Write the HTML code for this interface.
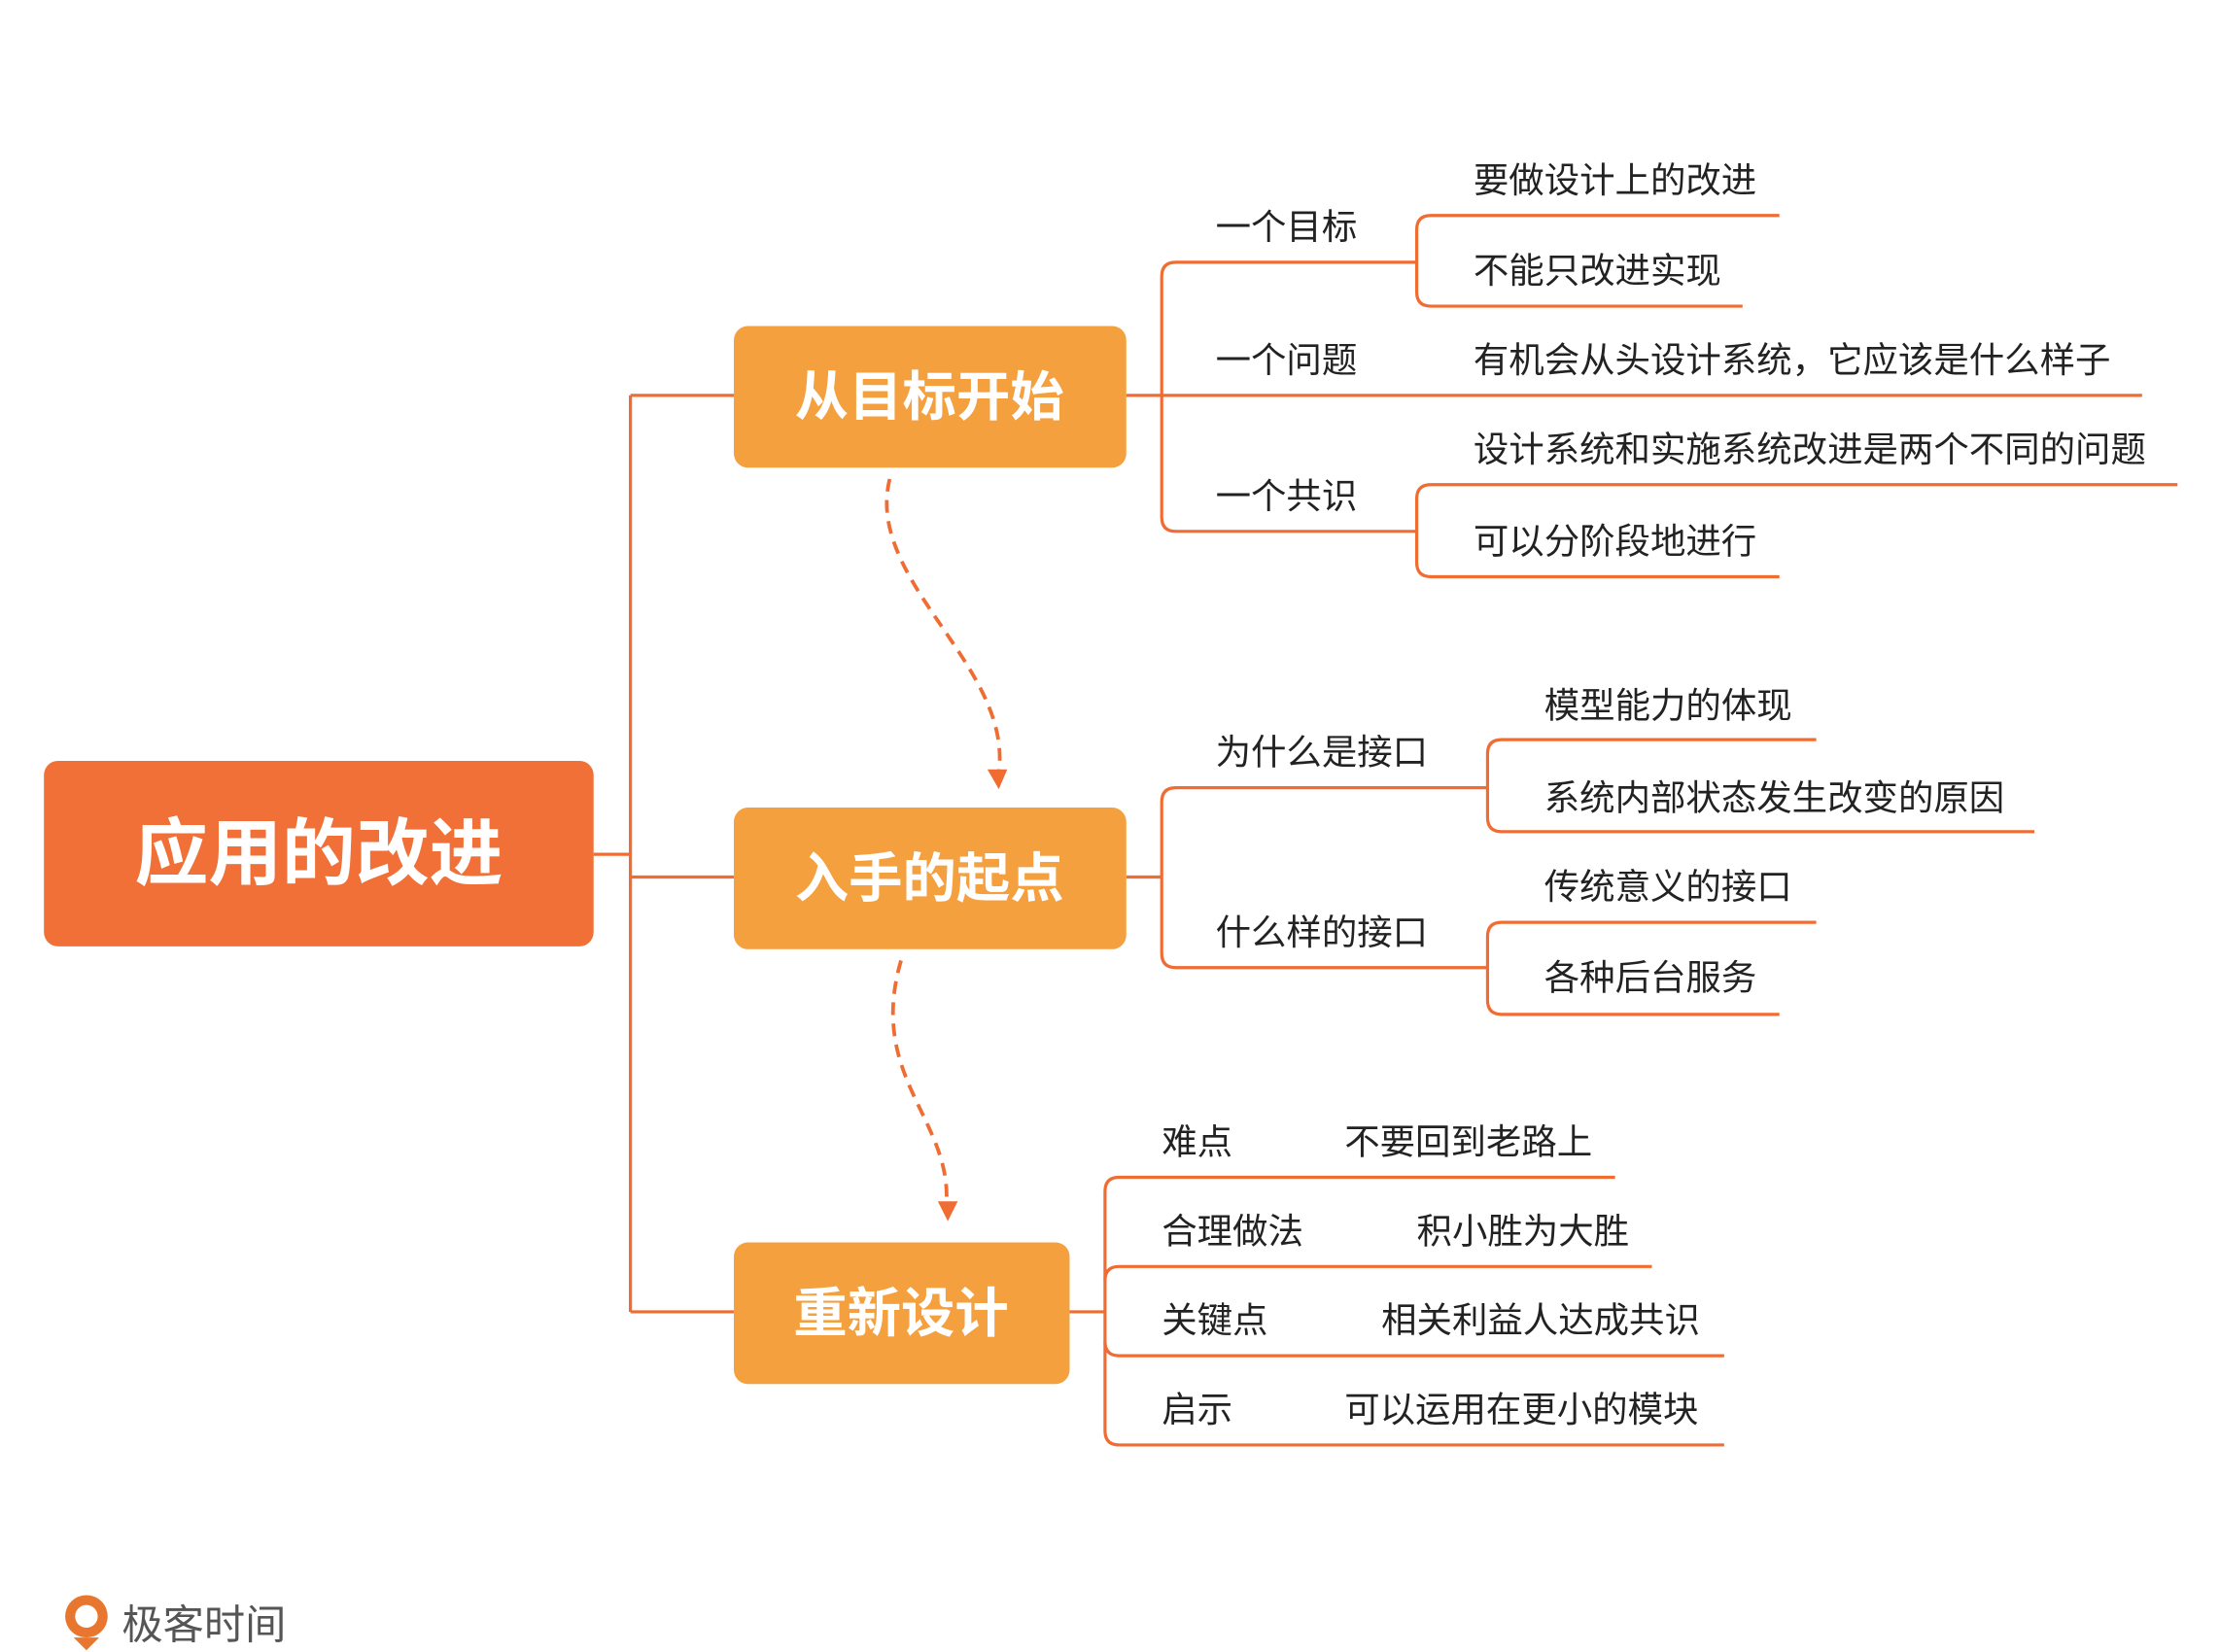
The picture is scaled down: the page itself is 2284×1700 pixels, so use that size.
<!DOCTYPE html>
<html><head><meta charset="utf-8"><style>
html,body{margin:0;padding:0;background:#fff;}
svg{display:block;}
text{font-family:"Liberation Sans","Noto Sans CJK SC",sans-serif;}
</style></head><body>
<svg width="2284" height="1700" viewBox="0 0 1567 1166" xmlns="http://www.w3.org/2000/svg">
<rect width="1567" height="1166" fill="#fff"/>
<g fill="none" stroke="#EF6C33" stroke-width="2.2">
<path d="M419,603 H445 M445,279 V926 M445,279 H518 M445,619 H518 M445,926 H518"/>
<path d="M795,279 H1512"/>
<path d="M1000,185 H830 Q820,185 820,195 V365 Q820,375 830,375 H1000"/>
<path d="M1256,152 H1010 Q1000,152 1000,162 V206 Q1000,216 1010,216 H1230"/>
<path d="M1537,342 H1010 Q1000,342 1000,352 V397 Q1000,407 1010,407 H1256"/>
<path d="M795,619 H820"/>
<path d="M1050,556 H830 Q820,556 820,566 V673 Q820,683 830,683 H1050"/>
<path d="M1282,522 H1060 Q1050,522 1050,532 V577 Q1050,587 1060,587 H1436"/>
<path d="M1282,651 H1060 Q1050,651 1050,661 V706 Q1050,716 1060,716 H1256"/>
<path d="M755,926 H780"/>
<path d="M1140,831 H790 Q780,831 780,841 V1010 Q780,1020 790,1020 H1217"/>
<path d="M780,904 Q780,894 790,894 H1166 M780,947 Q780,957 790,957 H1217"/>
<path stroke-width="2.6" stroke-dasharray="9,6" d="M628,338 C610,410 715,470 705,545"/>
<path stroke-width="2.6" stroke-dasharray="9,6" d="M636,678 C612,760 672,790 668,850"/>
</g>
<path d="M697,543 L705,557 L711,543 Z" fill="#EF6C33"/>
<path d="M662,848 L669,862 L676,848 Z" fill="#EF6C33"/>
<rect x="31" y="537" width="388" height="131" rx="10" fill="#F07038"/>
<rect x="518" y="230" width="277" height="100" rx="10" fill="#F4A03E"/>
<rect x="518" y="570" width="277" height="100" rx="10" fill="#F4A03E"/>
<rect x="518" y="877" width="237" height="100" rx="10" fill="#F4A03E"/>
<g fill="#fff" font-weight="bold" text-anchor="middle" dominant-baseline="central">
<text x="225" y="603" font-size="52">应用的改进</text>
<text x="656" y="280" font-size="38">从目标开始</text>
<text x="656" y="620" font-size="38">入手的起点</text>
<text x="636" y="927" font-size="38">重新设计</text>
</g>
<g fill="#222" font-size="25" dominant-baseline="central">
<text x="858" y="160">一个目标</text>
<text x="1040" y="127">要做设计上的改进</text>
<text x="1040" y="191">不能只改进实现</text>
<text x="858" y="254">一个问题</text>
<text x="1040" y="254">有机会从头设计系统，它应该是什么样子</text>
<text x="1040" y="317">设计系统和实施系统改进是两个不同的问题</text>
<text x="858" y="350">一个共识</text>
<text x="1040" y="382">可以分阶段地进行</text>
<text x="858" y="531">为什么是接口</text>
<text x="1090" y="498">模型能力的体现</text>
<text x="1090" y="563">系统内部状态发生改变的原因</text>
<text x="858" y="658">什么样的接口</text>
<text x="1090" y="626">传统意义的接口</text>
<text x="1090" y="690">各种后台服务</text>
<text x="820" y="806">难点</text>
<text x="949" y="806">不要回到老路上</text>
<text x="820" y="869">合理做法</text>
<text x="1000" y="869">积小胜为大胜</text>
<text x="820" y="932">关键点</text>
<text x="975" y="932">相关利益人达成共识</text>
<text x="820" y="995">启示</text>
<text x="949" y="995">可以运用在更小的模块</text>
</g>
<circle cx="61" cy="1141" r="15" fill="#E9762F"/>
<circle cx="61" cy="1141" r="8" fill="#fff"/>
<path d="M52,1156 L70,1156 L61,1165 Z" fill="#E9762F"/>
<text x="86" y="1147" font-size="29" fill="#555" dominant-baseline="central">极客时间</text>
</svg>
</body></html>
